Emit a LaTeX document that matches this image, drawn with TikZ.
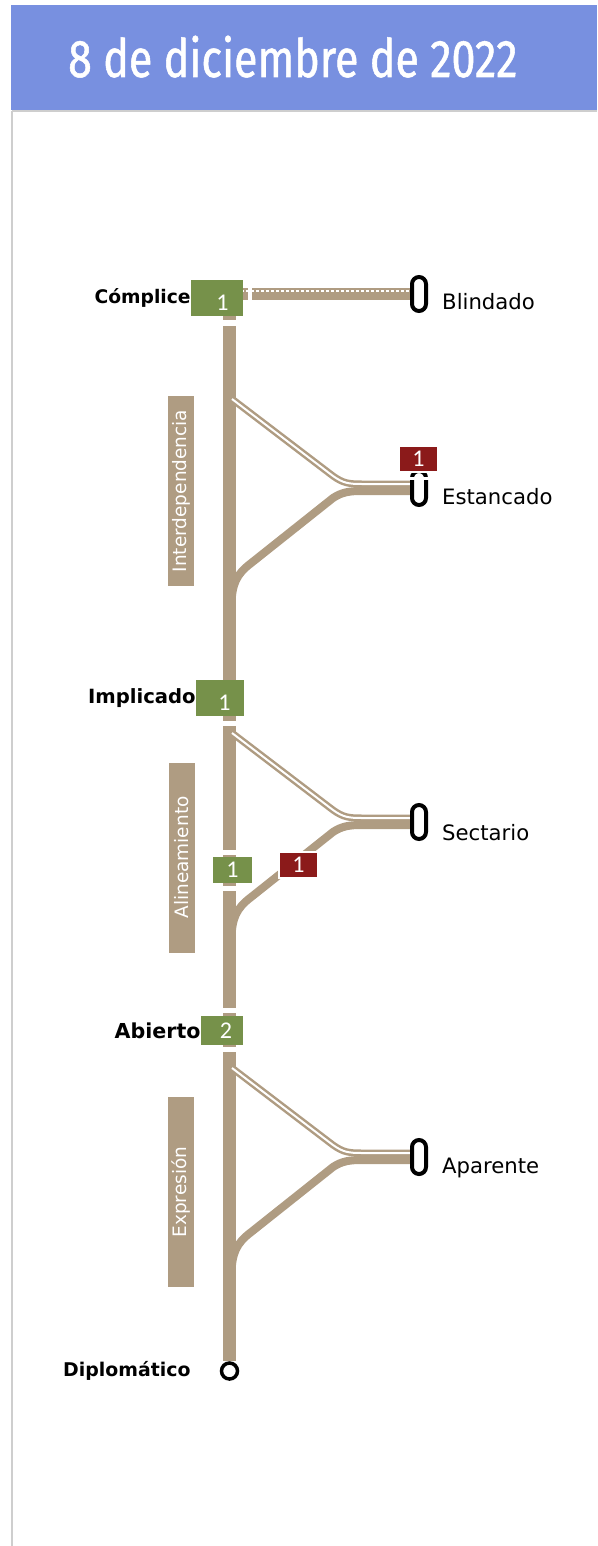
\documentclass[tikz,border=0pt]{standalone}
\usepackage{fontspec}
\setmainfont{DejaVu Sans}
\newfontfamily\numfont{Carlito}
\newfontfamily\titlefont[FakeStretch=0.81,FakeBold=1]{Fira Sans}
\usetikzlibrary{positioning,backgrounds}

\begin{document}
\begin{tikzpicture}[
  x=1pt, y=-1pt,
  track/.style={draw=trackTan, line width=13.5pt}, % main vertical line
  hollow/.style={draw=trackTan, line width=2.5pt, double=white, double distance=2pt}, % upper branch
  rail/.style={draw=trackTan, line width=8pt}, % lower branch
  gap/.style={fill=white}, % cuts next to the badges
  badge/.style={rectangle, inner sep=0pt, minimum width=39pt, minimum height=26pt,
    text=white, font=\numfont\fontsize{24}{24}\selectfont},
  stop/.style={rectangle, draw, line width=4pt, rounded corners=7pt,
    minimum width=14pt, minimum height=34pt, inner sep=0pt, fill=white}, % end of a branch
  level/.style={font=\bfseries\fontsize{#1}{22}\selectfont, inner sep=0pt},
  place/.style={font=\fontsize{21.2}{24}\selectfont, inner sep=0pt},
  phase/.style={rectangle, fill=trackTan, rotate=90, minimum width=190pt, minimum height=26pt,
    inner sep=0pt, text=white, font=\fontsize{18.5}{22}\selectfont}
]

% Colors
\definecolor{trackTan}{RGB}{175,156,130}  % track
\definecolor{okGreen}{RGB}{118,145,74}    % green badges
\definecolor{badRed}{RGB}{139,26,26}      % red badges
\definecolor{headBlue}{RGB}{120,144,224}  % header
\definecolor{frameGray}{RGB}{206,206,206} % page frame

\useasboundingbox (0,0) rectangle (597,1546);

% Header
\fill[headBlue] (11,5) rectangle (597,110);
\node[anchor=base west, inner sep=0pt, text=white, font=\titlefont\fontsize{53}{60}\selectfont] (title) at (68,77) {8 de diciembre de 2022};
\draw[frameGray, line width=2pt] (11.5,111) -- (597,111);
\draw[frameGray, line width=2pt] (11.5,111) -- (11.5,1546);

% Ends of the branches
\node[stop] (mBli) at (419,294) {};
\node[stop] (mEst) at (419,488) {};
\node[stop] (mSec) at (419,822) {};
\node[stop] (mApa) at (419,1157) {};
\fill[gap] (408,477) rectangle (430,479.5);
\node[circle, draw, fill=white, line width=3.5pt, minimum size=16pt, inner sep=0pt] (diplo) at (229.5,1371) {};

% Phases
\node[phase] (pInt) at (181,491) {Interdependencia};
\node[phase] (pAli) at (181.5,857.5) {Alineamiento};
\node[phase] (pExp) at (181,1192) {Expresión};

% Badges
\node[badge, fill=okGreen, minimum width=52pt, minimum height=36pt] (bCom) at (217,298) {};
\node[badge] (nCom) at (222.5,303) {1};
\node[badge, fill=okGreen, minimum width=48pt, minimum height=36pt] (bImp) at (220,698) {};
\node[badge] (nImp) at (224.5,703) {1};
\node[badge, fill=okGreen] (bAli) at (232.5,870) {1};
\node[badge, fill=okGreen, minimum width=42pt, minimum height=29pt] (bAbi) at (222,1030.5) {\hspace*{8pt}2};
\node[badge, fill=badRed, draw=white, line width=1.5pt] (rEst) at (418.5,459) {1};
\node[badge, fill=badRed, draw=white, line width=1.5pt] (rAli) at (298.5,865) {1};

% Levels on the main line
\node[level=18.7, left=0pt of bCom] (lCom) {Cómplice};
\node[level=19.6, left=0pt of bImp] (lImp) {Implicado};
\node[level=20.6, left=0pt of bAbi] (lAbi) {Abierto};
\node[level=18.9, left=29pt of diplo] (lDip) {Diplomático};

% Names of the ends
\node[place, anchor=base west] (tBli) at ([xshift=23pt,yshift=-15pt]mBli.center) {Blindado};
\node[place, anchor=base west] (tEst) at ([xshift=23pt,yshift=-16pt]mEst.center) {Estancado};
\node[place, anchor=base west] (tSec) at ([xshift=23pt,yshift=-18pt]mSec.center) {Sectario};
\node[place, anchor=base west] (tApa) at ([xshift=23pt,yshift=-16pt]mApa.center) {Aparente};

\begin{scope}[on background layer]
  \coordinate (top) at (229.5,298);
  \draw[track] (top) -- (diplo.north);
  % rail to Blindado
  \coordinate (jBli) at (236,294);
  \draw[rail, line width=6pt] ([yshift=-3pt]jBli) -- ([yshift=-3pt]mBli.west);
  \draw[rail, line width=6pt] ([yshift=3pt]jBli) -- ([yshift=3pt]mBli.west);
  \draw[white, line width=2pt, dash pattern=on 3pt off 2pt] ([yshift=3pt]jBli) -- ([yshift=3pt]mBli.west);
  % branches of each phase
  \foreach \k/\yc in {Est/488, Sec/822, Apa/1157}{
    \draw[hollow] (232,\yc-89) -- (333,\yc-12) .. controls (343,\yc-5) and (348,\yc-4) .. (362,\yc-4) -- ([yshift=4pt]m\k.west);
    \draw[rail] (231.5,\yc+118) .. controls (231.5,\yc+96) and (237,\yc+86) .. (250,\yc+76) -- (333,\yc+10) .. controls (342,\yc+4) and (350,\yc+3) .. (362,\yc+3) -- ([yshift=-3pt]m\k.west);
  }
  % cuts next to the badges
  \fill[gap] (221,320) rectangle (238,326);
  \fill[gap] (248,284) rectangle (252,304);
  \fill[gap] (221,721) rectangle (238,726);
  \fill[gap] (221,850) rectangle (238,855);
  \fill[gap] (221,886) rectangle (238,891);
  \fill[gap] (221,1008) rectangle (238,1013);
  \fill[gap] (221,1047) rectangle (238,1052);
\end{scope}

\end{tikzpicture}
\end{document}
